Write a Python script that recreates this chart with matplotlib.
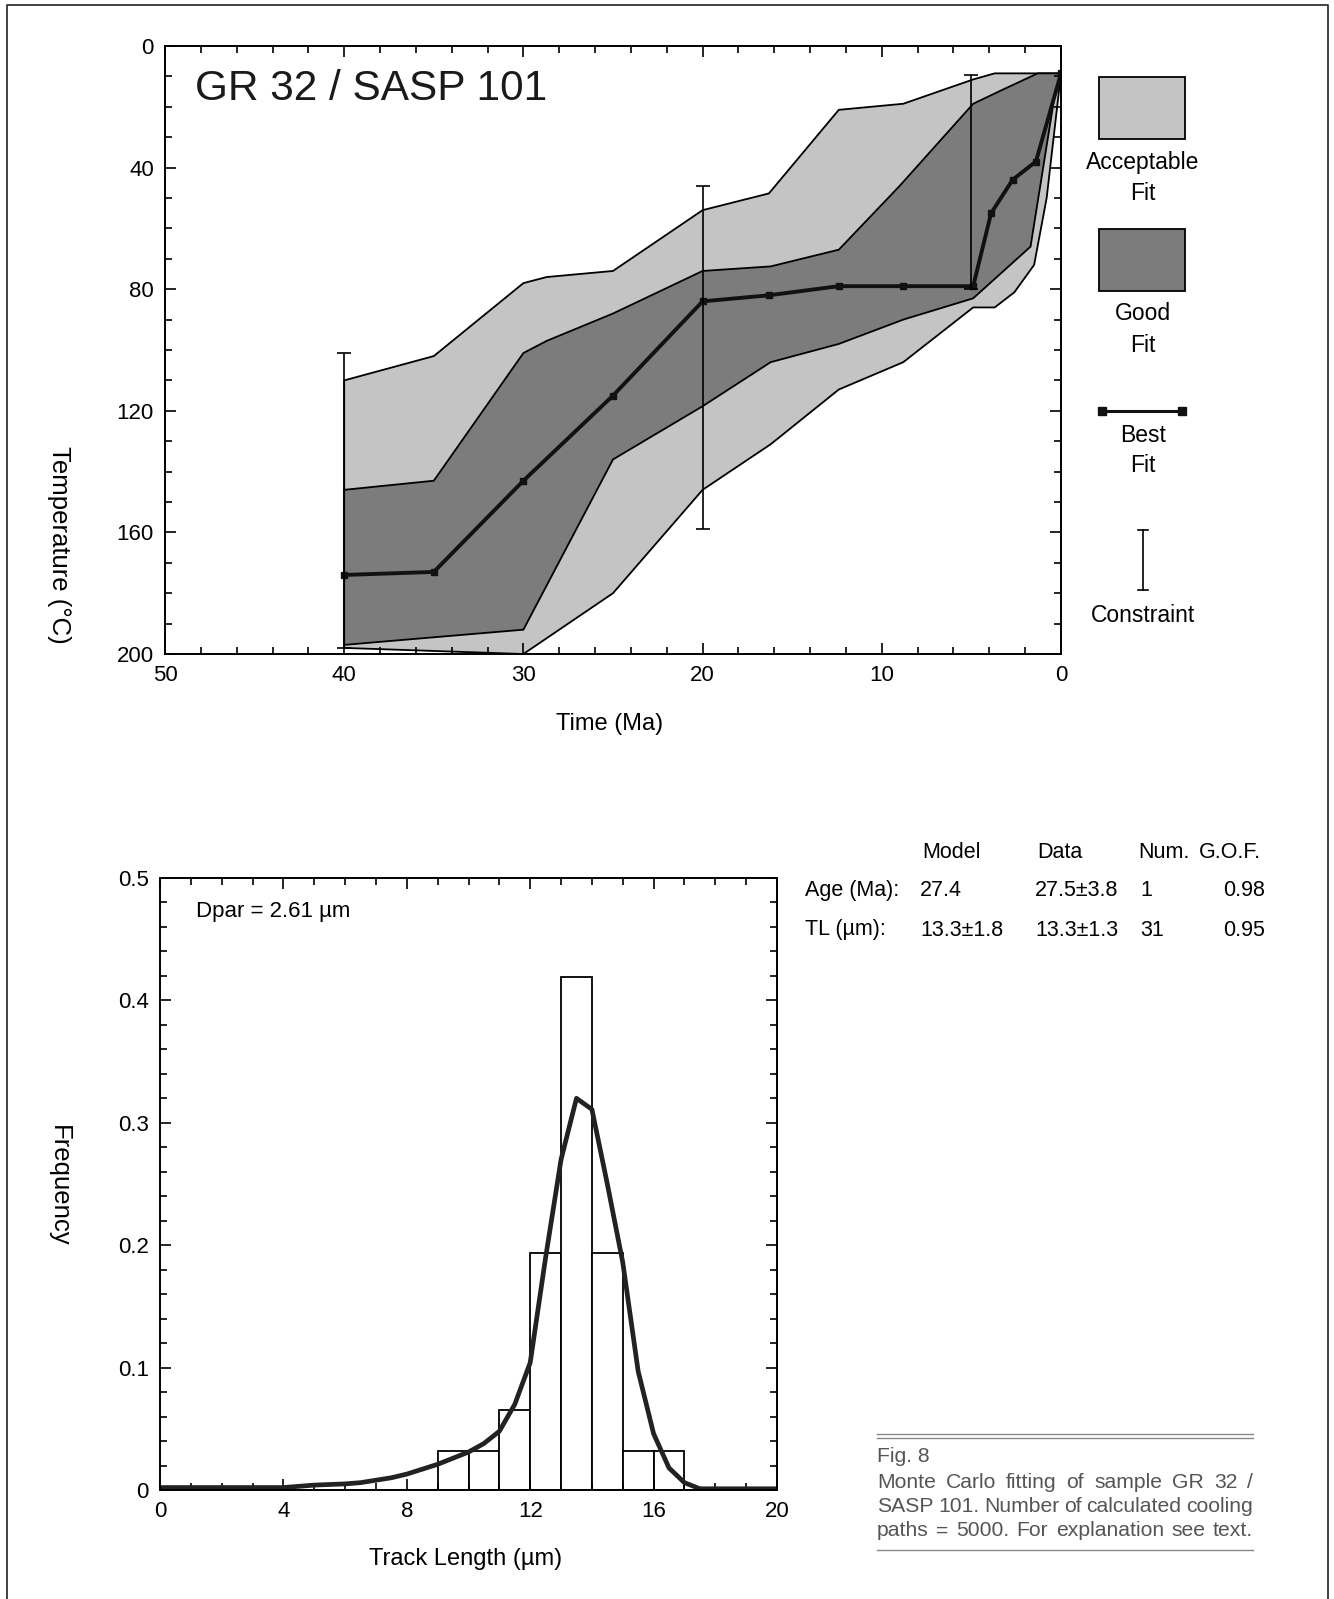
import matplotlib
matplotlib.use('Agg')
import matplotlib.pyplot as plt
from matplotlib.lines import Line2D
from matplotlib.patches import Rectangle
from matplotlib.ticker import MultipleLocator, FuncFormatter

plt.rcParams['font.family'] = ['Liberation Sans', 'DejaVu Sans']

W, H = 1334, 1599

# --- time-temperature paths (Ma, deg C) ---
acc_upper_ma = [40, 35, 30, 28.7, 25, 20, 16.3, 12.4, 8.8, 4.9, 3.7, 0]
acc_upper_t = [110, 102, 78, 76, 74, 54, 48.5, 21, 19, 11, 9, 9]
acc_lower_ma = [40, 30, 25, 20, 16.2, 12.4, 8.8, 4.9, 3.7, 2.6, 1.5, 0.8, 0]
acc_lower_t = [198, 200, 180, 146, 131, 113, 104, 86, 86, 81, 72, 50, 9]

good_upper_ma = [40, 35, 30, 28.7, 25, 20, 16.2, 12.4, 9, 4.9, 3.3, 1.3, 0]
good_upper_t = [146, 143, 101, 97, 88, 74, 72.5, 67, 46, 19, 14.5, 9, 9]
good_lower_ma = [40, 30, 25, 20, 16.2, 12.4, 8.8, 4.9, 1.7, 0.4, 0]
good_lower_t = [197, 192, 136, 118.5, 104, 98, 90, 83, 66, 18, 9]

best_ma = [40, 35, 30, 25, 20, 16.3, 12.4, 8.8, 4.9, 3.9, 2.7, 1.4, 0]
best_t = [174, 173, 143, 115, 84, 82, 79, 79, 79, 55, 44, 38, 9]

constraint_ma = [40, 20, 5]
constraint_t_lo = [101, 46, 9.5]
constraint_t_hi = [198, 159, 80]

# --- track length histogram ---
bin_left = list(range(20))
bin_freq = [0, 0, 0, 0, 0, 0, 0, 0, 0, 0.032, 0.032, 0.065, 0.194, 0.419,
            0.194, 0.032, 0.032, 0, 0, 0]
model_len = [0, 1, 2, 3, 4, 4.5, 5, 5.5, 6, 6.5, 7, 7.5, 8, 8.5, 9, 9.5, 10,
             10.5, 11, 11.5, 12, 12.5, 13, 13.5, 14, 14.5, 15, 15.5, 16, 16.5,
             17, 17.5, 18, 19, 20]
model_freq = [0.002, 0.002, 0.002, 0.002, 0.002, 0.003, 0.004, 0.0045, 0.005,
              0.006, 0.008, 0.010, 0.013, 0.017, 0.021, 0.026, 0.031, 0.038,
              0.048, 0.07, 0.104, 0.19, 0.27, 0.32, 0.311, 0.25, 0.186, 0.097,
              0.046, 0.018, 0.006, 0.001, 0.001, 0.001, 0.001]

stats_header = ['Model', 'Data', 'Num.', 'G.O.F.']
stats_rows = [['Age (Ma):', '27.4', '27.5±3.8', '1', '0.98'],
              ['TL (µm):', '13.3±1.8', '13.3±1.3', '31', '0.95']]

caption = ['Fig. 8',
           'Monte Carlo fitting of sample GR 32 /',
           'SASP 101. Number of calculated cooling',
           'paths = 5000. For explanation see text.']

LIGHT = '#c4c4c4'
DARK = '#7c7c7c'


def fx(px):
    return px / W


def fy(py):
    return 1 - py / H


def style_axes(ax):
    for s in ax.spines.values():
        s.set_linewidth(1.4)
    ax.tick_params(which='both', direction='in', top=True, right=True,
                   width=1.2, labelsize=16, pad=8)
    ax.tick_params(which='major', length=8)
    ax.tick_params(which='minor', length=5)


fig = plt.figure(figsize=(W / 100, H / 100), dpi=100)
renderer = fig.canvas.get_renderer()

# ---------- top: thermal history ----------
ax1 = fig.add_axes([fx(165), fy(654), fx(1061) - fx(165), (654 - 46) / H])
ax1.fill(acc_upper_ma + acc_lower_ma[::-1], acc_upper_t + acc_lower_t[::-1],
         facecolor=LIGHT, edgecolor='black', lw=1.3)
ax1.fill(good_upper_ma + good_lower_ma[::-1], good_upper_t + good_lower_t[::-1],
         facecolor=DARK, edgecolor='black', lw=1.3)
ax1.plot(best_ma, best_t, color='#111111', lw=2.8, marker='s', ms=4.5)
for m, lo, hi in zip(constraint_ma, constraint_t_lo, constraint_t_hi):
    ax1.errorbar([m], [(lo + hi) / 2], yerr=[[(hi - lo) / 2], [(hi - lo) / 2]],
                 fmt='none', ecolor='black', elinewidth=1.2, capsize=5, capthick=1.2)
ax1.set_xlim(50, 0)
ax1.set_ylim(200, 0)
ax1.xaxis.set_major_locator(MultipleLocator(10))
ax1.xaxis.set_minor_locator(MultipleLocator(2))
ax1.yaxis.set_major_locator(MultipleLocator(40))
ax1.yaxis.set_minor_locator(MultipleLocator(10))
style_axes(ax1)
ax1.text(0.034, 0.929, 'GR 32 / SASP 101', transform=ax1.transAxes,
         fontsize=30.5, va='center', ha='left', color='#1a1a1a')
fig.text(fx(610), fy(724), 'Time (Ma)', fontsize=17, ha='center', va='center')
fig.text(fx(59), fy(545), 'Temperature (°C)', fontsize=18.5, ha='center',
         va='center', rotation=-90)

# legend column
lx = 1143
for (y0, y1, fc) in [(77, 139, LIGHT), (229, 291, DARK)]:
    fig.patches.append(Rectangle((fx(1099), fy(y1)), fx(1185) - fx(1099),
                                 (y1 - y0) / H, transform=fig.transFigure,
                                 facecolor=fc, edgecolor='black', lw=1.3))
for txt, y in [('Acceptable', 163), ('Fit', 194), ('Good', 314), ('Fit', 345),
               ('Best', 435), ('Fit', 465), ('Constraint', 615)]:
    fig.text(fx(lx), fy(y), txt, fontsize=16.5, ha='center', va='center')
fig.add_artist(Line2D([fx(1102), fx(1182)], [fy(411), fy(411)], color='#111111',
                      lw=2.2, marker='s', ms=5.5, markevery=[0, 1]))
fig.add_artist(Line2D([fx(lx), fx(lx)], [fy(530), fy(590)], color='black', lw=1.2))
for y in (530, 590):
    fig.add_artist(Line2D([fx(lx - 5), fx(lx + 5)], [fy(y), fy(y)], color='black', lw=1.2))

# ---------- bottom: track length distribution ----------
ax2 = fig.add_axes([fx(160), fy(1490), fx(777) - fx(160), (1490 - 878) / H])
ax2.bar(bin_left, bin_freq, width=1, align='edge', facecolor='white',
        edgecolor='black', lw=1.3)
ax2.plot(model_len, model_freq, color='#222222', lw=3.4)
ax2.set_xlim(0, 20)
ax2.set_ylim(0, 0.5)
ax2.xaxis.set_major_locator(MultipleLocator(4))
ax2.xaxis.set_minor_locator(MultipleLocator(1))
ax2.yaxis.set_major_locator(MultipleLocator(0.1))
ax2.yaxis.set_minor_locator(MultipleLocator(0.02))
ax2.yaxis.set_major_formatter(FuncFormatter(lambda v, p: '0' if abs(v) < 1e-9 else f'{v:.1f}'))
style_axes(ax2)
ax2.text(0.058, 0.945, 'Dpar = 2.61 µm', transform=ax2.transAxes,
         fontsize=16, va='center', ha='left')
fig.text(fx(466), fy(1559), 'Track Length (µm)', fontsize=17, ha='center', va='center')
fig.text(fx(59), fy(1186), 'Frequency', fontsize=18.5, ha='center', va='center',
         rotation=-90)

# statistics table
for txt, x in zip(stats_header, [922, 1037, 1138, 1199]):
    fig.text(fx(x), fy(852), txt, fontsize=15.5, ha='left', va='center')
col_x = [805, 920, 1035, 1140, 1223]
for row, y in zip(stats_rows, [891, 930]):
    for txt, x in zip(row, col_x):
        fig.text(fx(x), fy(y), txt, fontsize=15.5, ha='left', va='center')

# caption box, lines justified between the rules
cap_left, cap_right = 877, 1253
for y in (1434, 1438):
    fig.add_artist(Line2D([fx(cap_left), fx(cap_right)], [fy(y), fy(y)],
                          color='#888888', lw=1.0))
fig.add_artist(Line2D([fx(cap_left), fx(cap_right)], [fy(1550), fy(1550)],
                      color='#888888', lw=1.0))
for i, (line, y) in enumerate(zip(caption, [1456, 1482, 1506, 1531])):
    words = line.split(' ') if i > 0 else [line]
    arts = [fig.text(0, fy(y), w, fontsize=15.2, ha='left', va='center',
                     color='#555555') for w in words]
    widths = [a.get_window_extent(renderer).width for a in arts]
    gap = (cap_right - cap_left - sum(widths)) / max(len(words) - 1, 1) if i > 0 else 0
    x = cap_left
    for a, wd in zip(arts, widths):
        a.set_x(fx(x))
        x += wd + gap

# outer frame
fig.add_artist(Line2D([fx(7), fx(7), fx(1328), fx(1328)], [0, fy(5), fy(5), 0],
                      color='#333333', lw=1.3))

fig.savefig('out.png', dpi=100)
